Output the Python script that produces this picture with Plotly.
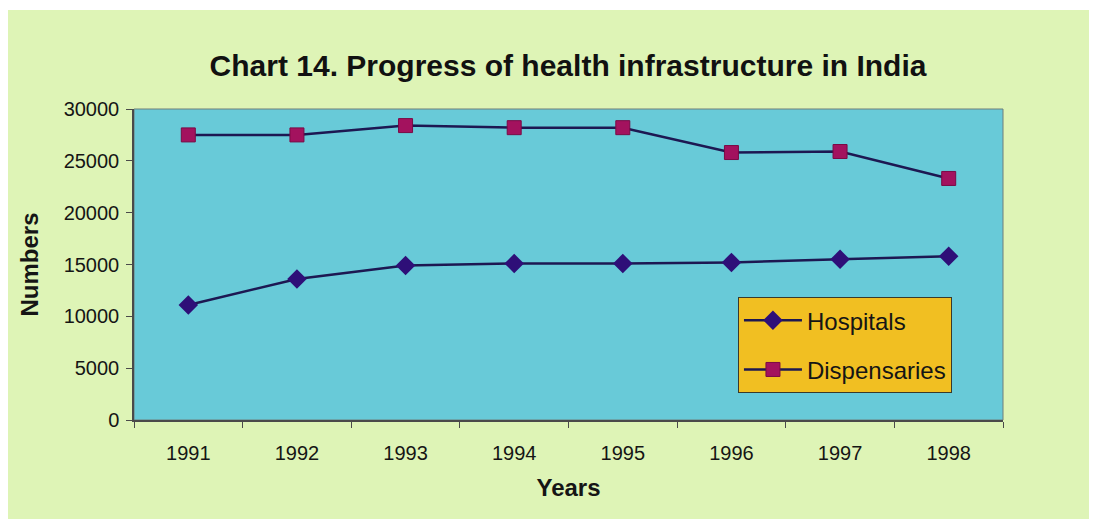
import plotly.graph_objects as go

# Data
years = ['1991', '1992', '1993', '1994', '1995', '1996', '1997', '1998']
hospitals = [11100, 13600, 14900, 15100, 15100, 15200, 15500, 15800]
dispensaries = [27500, 27500, 28400, 28200, 28200, 25800, 25900, 23300]
y_ticks = [0, 5000, 10000, 15000, 20000, 25000, 30000]

font_name = 'Liberation Sans, Arial, sans-serif'

fig = go.Figure()

fig.add_trace(go.Scatter(
    x=years, y=hospitals, name='Hospitals', mode='lines+markers',
    legendgroup='h',
    line=dict(color='#1d1852', width=2.5),
    marker=dict(symbol='diamond', size=15, color='#2e0f78'),
))
fig.add_trace(go.Scatter(
    x=years, y=dispensaries, name='Dispensaries', mode='lines+markers',
    legendgroup='d',
    line=dict(color='#1d1852', width=2.5),
    marker=dict(symbol='square', size=14, color='#a3125e',
                line=dict(color='#7a0a45', width=1)),
))

# Light green card and cyan plot area drawn as shapes
fig.add_shape(type='rect', xref='paper', yref='paper',
              x0=-0.147, x1=1.12, y0=-0.318, y1=1.318,
              fillcolor='#def4b6', line=dict(width=0), layer='below')
fig.add_shape(type='rect', xref='paper', yref='paper',
              x0=0, x1=1, y0=0, y1=1,
              fillcolor='#68cad8', line=dict(color='#6f7f7a', width=1), layer='below')

fig.update_layout(
    width=1097, height=524,
    margin=dict(l=126, r=102, t=101, b=112),
    paper_bgcolor='white',
    plot_bgcolor='rgba(0,0,0,0)',
    font=dict(family=font_name, color='#151515'),
    title=dict(text='<b>Chart 14. Progress of health infrastructure in India</b>',
               x=0.5105, xanchor='center', y=0.891, yanchor='middle',
               font=dict(size=30, color='#111111')),
    showlegend=True,
    legend=dict(x=0.695, y=0.395, xanchor='left', yanchor='top',
                bgcolor='#f1bf22', bordercolor='#3a3a2a', borderwidth=1,
                font=dict(size=24, color='#151515'),
                itemwidth=58, tracegroupgap=15, traceorder='grouped'),
)

fig.update_xaxes(
    type='category', range=[-0.5, 7.5],
    showline=True, linecolor='#4a4a4a', linewidth=1.5,
    ticks='outside', tickson='boundaries', ticklen=6, tickcolor='#4a4a4a',
    showgrid=False, ticklabelstandoff=14,
    tickfont=dict(size=20),
    title=dict(text='<b>Years</b>', font=dict(size=24), standoff=16),
)
fig.update_yaxes(
    range=[0, 30000], tickvals=y_ticks, tickformat='d',
    showline=True, linecolor='#4a4a4a', linewidth=1.5,
    ticks='outside', ticklen=6, tickcolor='#4a4a4a',
    showgrid=False, zeroline=False, ticklabelstandoff=3,
    tickfont=dict(size=20),
    title=dict(text='<b>Numbers</b>', font=dict(size=24), standoff=18),
)

fig.write_html('out.html')
